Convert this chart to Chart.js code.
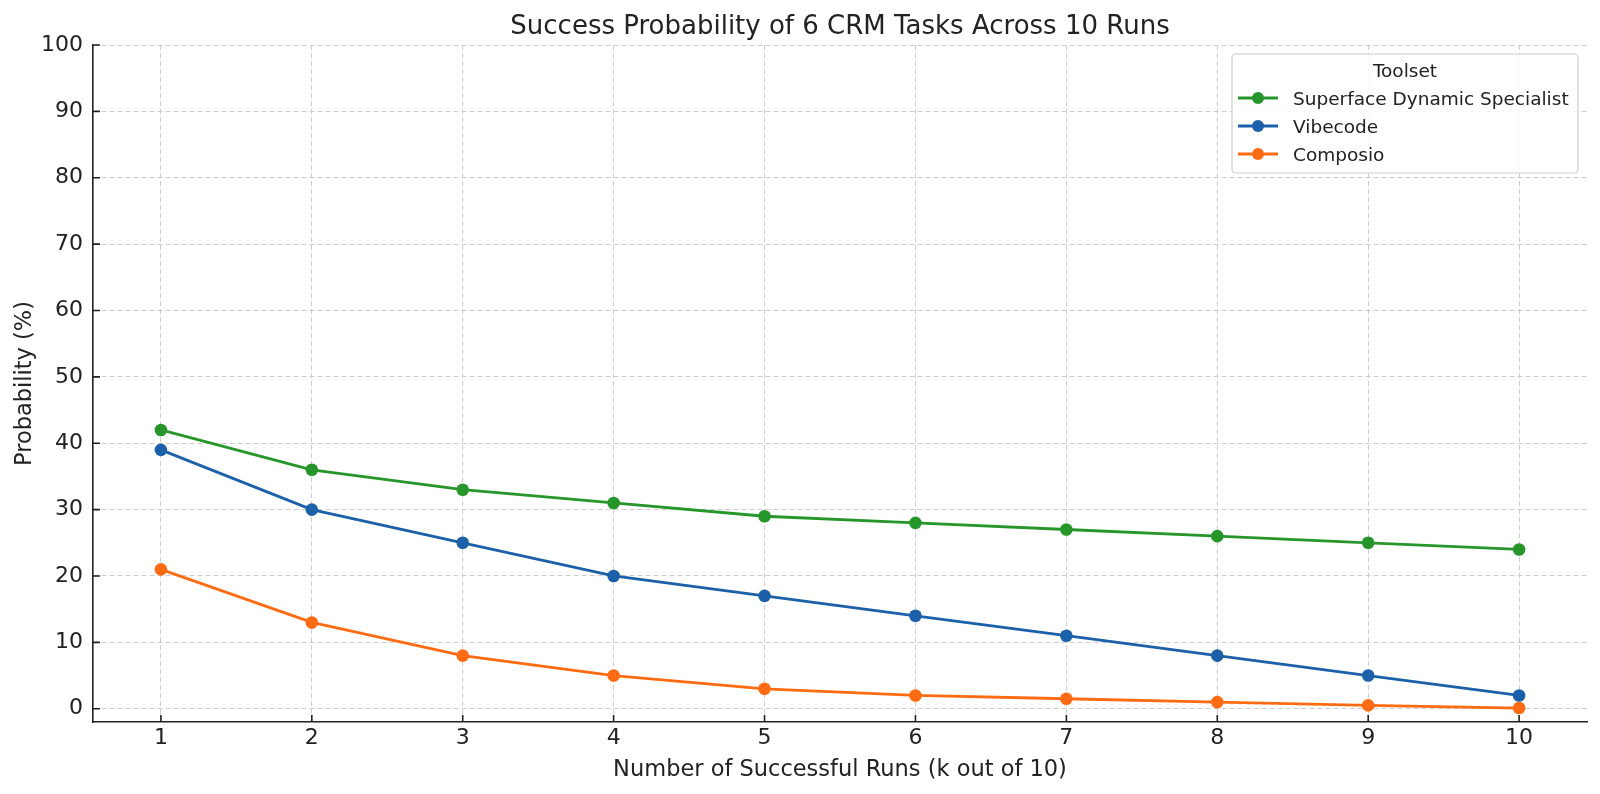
<!DOCTYPE html>
<html>
<head>
<meta charset="utf-8">
<title>Success Probability of 6 CRM Tasks Across 10 Runs</title>
<script src="https://cdn.jsdelivr.net/npm/chart.js@4.4.1/dist/chart.umd.min.js"></script>
<style>
  html, body { margin: 0; padding: 0; background: #fff; }
  #wrap { width: 1600px; height: 794px; }
  canvas { display: block; }
</style>
</head>
<body>
<div id="wrap"><canvas id="chart" width="1600" height="794"></canvas></div>
<script>
// values
const runs = [1, 2, 3, 4, 5, 6, 7, 8, 9, 10];
const superface = [42, 36, 33, 31, 29, 28, 27, 26, 25, 24];
const vibecode = [39, 30, 25, 20, 17, 14, 11, 8, 5, 2];
const composio = [21, 13, 8, 5, 3, 2, 1.5, 1, 0.5, 0.1];

const seriesNames = ["Superface Dynamic Specialist", "Vibecode", "Composio"];
const seriesColors = ["#27962a", "#1b60a8", "#ff6b12"];
const xTicks = runs;
const yTicks = [0, 10, 20, 30, 40, 50, 60, 70, 80, 90, 100];

const chartTitle = "Success Probability of 6 CRM Tasks Across 10 Runs";
const xTitle = "Number of Successful Runs (k out of 10)";
const yTitle = "Probability (%)";
const legendTitle = "Toolset";

const textColor = "#222222";
const gridColor = "#cdcdcd";
const FONT = '"DejaVu Sans", "Liberation Sans", sans-serif';

Chart.defaults.font.family = FONT;
Chart.defaults.color = textColor;

function makeSet(name, values, color, order) {
  return {
    label: name,
    data: runs.map((r, i) => ({x: r, y: values[i]})),
    borderColor: color,
    backgroundColor: color,
    pointBackgroundColor: color,
    pointBorderWidth: 0,
    pointRadius: 6.3,
    borderWidth: 2.8,
    tension: 0,
    fill: false,
    clip: false,
    order: order
  };
}

// titles drawn as canvas text, placed from the chart area
const textPlugin = {
  id: "texts",
  afterDraw(chart) {
    const {ctx, chartArea} = chart;
    const cx = (chartArea.left + chartArea.right) / 2;
    ctx.save();
    ctx.fillStyle = textColor;
    ctx.textAlign = "center";
    ctx.textBaseline = "alphabetic";
    ctx.font = "26px " + FONT;
    ctx.fillText(chartTitle, cx, chartArea.top - 11);
    ctx.font = "22.5px " + FONT;
    ctx.fillText(xTitle, cx, chartArea.bottom + 54);
    ctx.translate(chartArea.left - 62, (chartArea.top + chartArea.bottom) / 2);
    ctx.rotate(-Math.PI / 2);
    ctx.fillText(yTitle, 0, 0);
    ctx.restore();
  }
};

// inward tick marks like the reference
const tickPlugin = {
  id: "innerTicks",
  afterDatasetsDraw(chart) {
    const {ctx, chartArea, scales} = chart;
    ctx.save();
    ctx.strokeStyle = textColor;
    ctx.lineWidth = 1.6;
    ctx.beginPath();
    yTicks.forEach(v => {
      const py = scales.y.getPixelForValue(v);
      ctx.moveTo(chartArea.left, py);
      ctx.lineTo(chartArea.left + 7, py);
    });
    xTicks.forEach(v => {
      const px = scales.x.getPixelForValue(v);
      ctx.moveTo(px, chartArea.bottom);
      ctx.lineTo(px, chartArea.bottom - 7);
    });
    ctx.stroke();
    ctx.restore();
  }
};

// legend box in the upper right of the plot
const legendPlugin = {
  id: "toolsetLegend",
  afterDraw(chart) {
    const {ctx, chartArea} = chart;
    const w = 346, h = 119;
    const x0 = chartArea.right - 9 - w;
    const y0 = chartArea.top + 9;
    ctx.save();
    ctx.beginPath();
    ctx.roundRect(x0, y0, w, h, 4);
    ctx.fillStyle = "rgba(255,255,255,0.85)";
    ctx.fill();
    ctx.strokeStyle = "#cccccc";
    ctx.lineWidth = 1.2;
    ctx.stroke();

    ctx.fillStyle = textColor;
    ctx.font = "18.5px " + FONT;
    ctx.textAlign = "center";
    ctx.textBaseline = "alphabetic";
    ctx.fillText(legendTitle, x0 + w / 2, y0 + 23);

    ctx.textAlign = "left";
    seriesNames.forEach((name, i) => {
      const cy = y0 + 44 + i * 28;
      ctx.strokeStyle = seriesColors[i];
      ctx.lineWidth = 2.8;
      ctx.beginPath();
      ctx.moveTo(x0 + 6, cy);
      ctx.lineTo(x0 + 46, cy);
      ctx.stroke();
      ctx.fillStyle = seriesColors[i];
      ctx.beginPath();
      ctx.arc(x0 + 26, cy, 6, 0, Math.PI * 2);
      ctx.fill();
      ctx.fillStyle = textColor;
      ctx.fillText(name, x0 + 61, cy + 7);
    });
    ctx.restore();
  }
};

new Chart(document.getElementById("chart"), {
  type: "line",
  data: {
    datasets: [
      makeSet(seriesNames[0], superface, seriesColors[0], 3),
      makeSet(seriesNames[1], vibecode, seriesColors[1], 2),
      makeSet(seriesNames[2], composio, seriesColors[2], 1)
    ]
  },
  options: {
    responsive: false,
    animation: false,
    devicePixelRatio: 1,
    layout: {padding: {top: 45, right: 13, left: 0, bottom: 0}},
    plugins: {
      legend: {display: false},
      title: {display: false},
      tooltip: {enabled: false}
    },
    scales: {
      x: {
        type: "linear",
        min: 0.55,
        max: 10.45,
        afterBuildTicks: s => { s.ticks = xTicks.map(v => ({value: v})); },
        afterFit: s => { s.height = 72; },
        grid: {color: gridColor, lineWidth: 1, drawTicks: false},
        border: {display: true, color: textColor, width: 1.6, dash: [5, 3]},
        ticks: {font: {size: 22}, color: textColor, padding: 3, autoSkip: false, maxRotation: 0}
      },
      y: {
        type: "linear",
        min: -2,
        max: 100,
        afterBuildTicks: s => { s.ticks = yTicks.map(v => ({value: v})); },
        afterFit: s => { s.width = 93; },
        grid: {color: gridColor, lineWidth: 1, drawTicks: false},
        border: {display: true, color: textColor, width: 1.6, dash: [5, 3]},
        ticks: {font: {size: 22}, color: textColor, padding: 10}
      }
    }
  },
  plugins: [textPlugin, tickPlugin, legendPlugin]
});
</script>
</body>
</html>
